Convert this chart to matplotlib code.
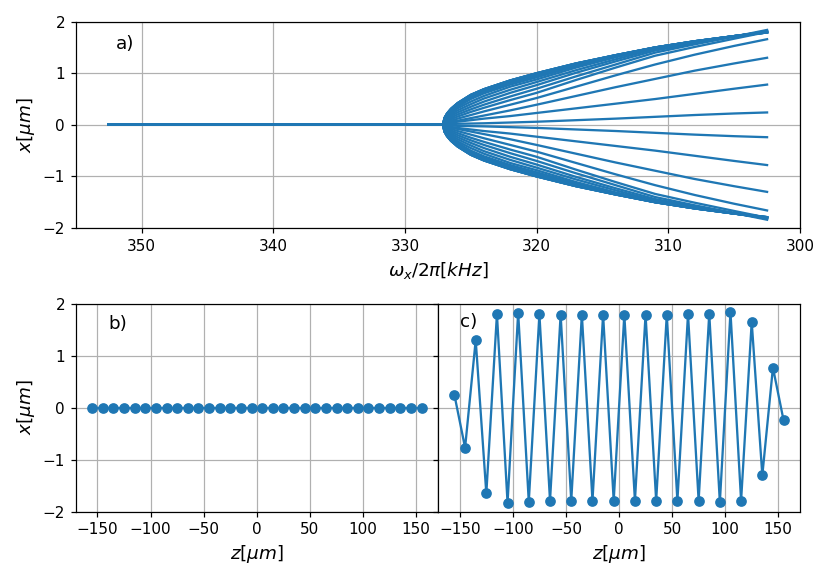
import numpy as np
import matplotlib
matplotlib.use("Agg")
import matplotlib.pyplot as plt

# ---------------------------------------------------------------------------
# Data
# ---------------------------------------------------------------------------
# a) transverse positions of the ions vs trap frequency (kHz)
freq = [352.5, 327.1, 327.0, 326.8, 326.5, 326.0, 325.0, 324.0, 322.0,
        320.0, 317.0, 314.0, 311.0, 308.0, 305.0, 302.5]

# branches going up (ions with x > 0 after the transition), ordered from the
# chain edge to the centre; the ones going down are their mirror images
upper_branches = [
    [0, 0, 0.005, 0.01, 0.015, 0.02, 0.025, 0.03, 0.045, 0.06, 0.09, 0.12, 0.155, 0.19, 0.22, 0.24],
    [0, 0, 0.02, 0.03, 0.04, 0.06, 0.09, 0.12, 0.17, 0.23, 0.32, 0.41, 0.50, 0.60, 0.70, 0.78],
    [0, 0, 0.03, 0.04, 0.06, 0.08, 0.13, 0.18, 0.28, 0.39, 0.56, 0.73, 0.89, 1.05, 1.19, 1.30],
    [0, 0, 0.04, 0.06, 0.08, 0.12, 0.19, 0.26, 0.39, 0.52, 0.74, 0.96, 1.17, 1.36, 1.53, 1.66],
    [0, 0, 0.05, 0.08, 0.11, 0.16, 0.25, 0.33, 0.48, 0.62, 0.87, 1.11, 1.34, 1.51, 1.67, 1.80],
    [0, 0, 0.06, 0.10, 0.14, 0.20, 0.30, 0.39, 0.55, 0.70, 0.94, 1.17, 1.40, 1.56, 1.71, 1.84],
    [0, 0, 0.07, 0.12, 0.17, 0.24, 0.35, 0.45, 0.62, 0.77, 1.01, 1.23, 1.44, 1.58, 1.71, 1.82],
    [0, 0, 0.08, 0.14, 0.20, 0.28, 0.40, 0.51, 0.68, 0.83, 1.06, 1.27, 1.47, 1.60, 1.72, 1.81],
    [0, 0, 0.10, 0.16, 0.23, 0.32, 0.45, 0.56, 0.74, 0.88, 1.11, 1.31, 1.48, 1.61, 1.72, 1.81],
    [0, 0, 0.11, 0.18, 0.26, 0.35, 0.50, 0.61, 0.78, 0.92, 1.14, 1.33, 1.49, 1.61, 1.72, 1.80],
    [0, 0, 0.12, 0.20, 0.28, 0.38, 0.53, 0.64, 0.81, 0.95, 1.16, 1.34, 1.50, 1.62, 1.72, 1.80],
    [0, 0, 0.13, 0.21, 0.30, 0.40, 0.56, 0.67, 0.84, 0.98, 1.18, 1.35, 1.50, 1.62, 1.72, 1.79],
    [0, 0, 0.13, 0.22, 0.31, 0.42, 0.58, 0.69, 0.86, 1.00, 1.19, 1.35, 1.50, 1.62, 1.72, 1.79],
    [0, 0, 0.13, 0.22, 0.31, 0.42, 0.58, 0.69, 0.86, 1.00, 1.19, 1.35, 1.50, 1.62, 1.72, 1.79],
    [0, 0, 0.13, 0.22, 0.31, 0.42, 0.58, 0.69, 0.86, 1.00, 1.19, 1.35, 1.50, 1.62, 1.72, 1.79],
    [0, 0, 0.13, 0.22, 0.31, 0.42, 0.58, 0.69, 0.86, 1.00, 1.19, 1.35, 1.50, 1.62, 1.72, 1.79],
]

# b) / c) ion positions along the chain (um)
z_pos = [-155, -145, -135, -125, -115, -105, -95, -85, -75, -65, -55, -45,
         -35, -25, -15, -5, 5, 15, 25, 35, 45, 55, 65, 75, 85, 95, 105, 115,
         125, 135, 145, 155]

# b) linear chain
x_linear = [0.0] * len(z_pos)

# c) zigzag
x_zigzag = [0.24, -0.77, 1.30, -1.65, 1.80, -1.83, 1.83, -1.81, 1.80, -1.79,
            1.79, -1.79, 1.79, -1.79, 1.79, -1.79, 1.79, -1.79, 1.79, -1.79,
            1.79, -1.79, 1.80, -1.79, 1.81, -1.82, 1.84, -1.79, 1.65, -1.30,
            0.77, -0.24]

# ---------------------------------------------------------------------------
# Plot
# ---------------------------------------------------------------------------
dpi = 110
fig = plt.figure(figsize=(831 / dpi, 581 / dpi), dpi=dpi)

ax_a = fig.add_axes([0.0911, 0.6076, 0.8716, 0.3551])
ax_b = fig.add_axes([0.0911, 0.1193, 0.4360, 0.3580])
ax_c = fig.add_axes([0.5271, 0.1193, 0.4356, 0.3580], sharey=ax_b)

up = np.array(upper_branches)
for row in up:
    ax_a.plot(freq, row, color="C0")
    ax_a.plot(freq, -row, color="C0")
ax_a.set_xlim(355, 300)
ax_a.set_ylim(-2, 2)
ax_a.set_yticks([-2, -1, 0, 1, 2])
ax_a.grid(True)
ax_a.set_xlabel(r"$\omega_x/2\pi[kHz]$", fontsize=12)
ax_a.set_ylabel(r"$x[\mu m]$", fontsize=12)
ax_a.text(0.055, 0.89, "a)", transform=ax_a.transAxes, fontsize=12,
          va="center")

ax_b.plot(z_pos, x_linear, "o-", color="C0")
ax_b.set_ylim(-2, 2)
ax_b.set_yticks([-2, -1, 0, 1, 2])
ax_b.set_xticks([-150, -100, -50, 0, 50, 100, 150])
ax_b.grid(True)
ax_b.set_xlabel(r"$z[\mu m]$", fontsize=12)
ax_b.set_ylabel(r"$x[\mu m]$", fontsize=12)
ax_b.text(0.09, 0.90, "b)", transform=ax_b.transAxes, fontsize=12,
          va="center")

ax_c.plot(z_pos, x_zigzag, "o-", color="C0")
ax_c.set_xticks([-150, -100, -50, 0, 50, 100, 150])
ax_c.tick_params(labelleft=False)
ax_c.grid(True)
ax_c.set_xlabel(r"$z[\mu m]$", fontsize=12)
ax_c.text(0.06, 0.91, "c)", transform=ax_c.transAxes, fontsize=12,
          va="center")

plt.savefig("out.png", dpi=dpi)
